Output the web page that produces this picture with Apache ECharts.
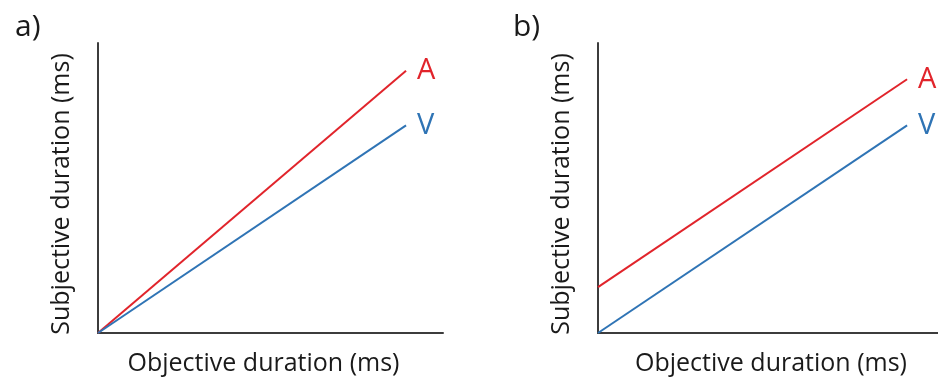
<!DOCTYPE html>
<html>
<head>
<meta charset="utf-8">
<script src="https://cdn.jsdelivr.net/npm/echarts@6/dist/echarts.min.js"></script>
<style>
  html, body { margin: 0; padding: 0; background: #fff; }
  #chart { width: 938px; height: 381px; }
</style>
</head>
<body>
<div id="chart"></div>
<script>
// Schematic models of subjective vs objective duration
const panelTitles = ['a)', 'b)'];
const xName = 'Objective duration (ms)';
const yName = 'Subjective duration (ms)';
const objective = [0, 100];
// a) slope model: lines through the origin with different slopes
const slopeA = [0, 90.4];
const slopeV = [0, 71.6];
// b) intercept model: same slope, auditory line shifted upward
const interceptA = [15.8, 87.5];
const interceptV = [0, 71.6];
const xMax = [112, 110];
const colors = { A: '#e1242b', V: '#2f74b5' };

const font = '"Open Sans", "Liberation Sans", Arial, sans-serif';
const textColor = '#1a1a1a';
const axisColor = '#3c3c3c';

function pairs(xs, ys) { return xs.map((x, i) => [x, ys[i]]); }

const grids = [
  { left: 98, top: 43, width: 345, height: 290 },
  { left: 598, top: 43, width: 340, height: 290 }
];
// small nudges of the axis titles along their axes
const xNamePad = [[0, 14, 0, 0], [0, 0, 0, 6]];

function xAxis(i) {
  return {
    gridIndex: i, type: 'value', min: 0, max: xMax[i],
    name: xName, nameLocation: 'middle', nameGap: 18,
    nameTextStyle: { fontFamily: font, fontSize: 25, color: textColor, padding: xNamePad[i] },
    axisLine: { lineStyle: { color: axisColor, width: 2 } },
    axisTick: { show: false }, axisLabel: { show: false }, splitLine: { show: false }
  };
}
function yAxis(i) {
  return {
    gridIndex: i, type: 'value', min: 0, max: 100,
    name: yName, nameLocation: 'middle', nameGap: 24,
    nameTextStyle: { fontFamily: font, fontSize: 25, color: textColor, padding: [0, 12, 0, 0] },
    axisLine: { show: true, lineStyle: { color: axisColor, width: 2 } },
    axisTick: { show: false }, axisLabel: { show: false }, splitLine: { show: false }
  };
}
function line(name, i, ys) {
  return {
    name: name, type: 'line', xAxisIndex: i, yAxisIndex: i,
    data: pairs(objective, ys), symbol: 'none', silent: true,
    lineStyle: { color: colors[name], width: 2 },
    endLabel: {
      show: true, formatter: '{a}', distance: 11,
      fontFamily: font, fontSize: 29, color: colors[name]
    }
  };
}

const chart = echarts.init(document.getElementById('chart'), null, { renderer: 'canvas' });
chart.setOption({
  animation: false,
  backgroundColor: '#fff',
  title: panelTitles.map((t, i) => ({
    text: t, left: i === 0 ? 10 : 508, top: 7,
    textStyle: { fontFamily: font, fontSize: 30, fontWeight: 'normal', color: textColor }
  })),
  grid: grids,
  xAxis: [xAxis(0), xAxis(1)],
  yAxis: [yAxis(0), yAxis(1)],
  series: [
    line('A', 0, slopeA), line('V', 0, slopeV),
    line('A', 1, interceptA), line('V', 1, interceptV)
  ]
});
</script>
</body>
</html>
